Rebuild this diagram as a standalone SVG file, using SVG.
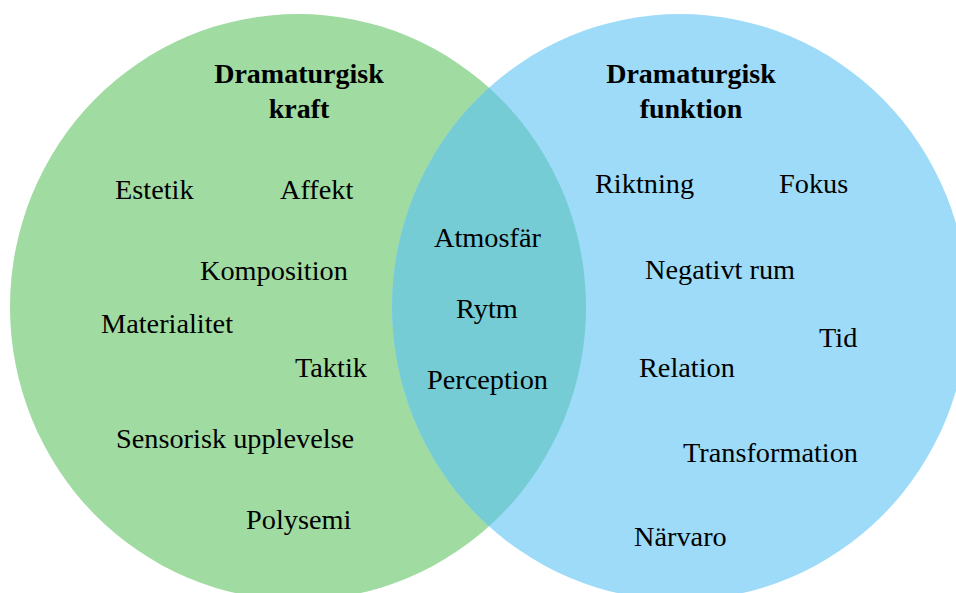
<svg xmlns="http://www.w3.org/2000/svg" width="956" height="593" viewBox="0 0 956 593">
<style>
text{font-family:"Liberation Serif","Times New Roman",serif;font-size:28.3px;fill:#000}
.t{font-weight:bold;text-anchor:middle;font-size:28px}
</style>
<defs>
<clipPath id="clipG"><ellipse cx="298" cy="307" rx="288" ry="293"/></clipPath>
</defs>
<rect width="956" height="593" fill="#fff"/>
<g id="set-kraft">
<ellipse cx="298" cy="307" rx="288" ry="293" fill="#A0DBA1"/>
</g>
<g id="set-funktion">
<ellipse cx="680" cy="307" rx="288" ry="293" fill="#9DDBF8"/>
</g>
<g id="overlap">
<ellipse cx="680" cy="307" rx="288" ry="293" fill="#76CCD4" clip-path="url(#clipG)"/>
</g>
<g id="connectors"></g>
<g id="title-kraft"><text class="t" x="299" y="83">Dramaturgisk</text><text class="t" x="299" y="118">kraft</text></g>
<g id="title-funktion"><text class="t" x="691" y="83">Dramaturgisk</text><text class="t" x="691" y="118">funktion</text></g>
<g id="kraft-items">
<text x="115" y="199">Estetik</text>
<text x="280" y="199">Affekt</text>
<text x="200" y="280">Komposition</text>
<text x="101" y="333">Materialitet</text>
<text x="295" y="377">Taktik</text>
<text x="116" y="448">Sensorisk upplevelse</text>
<text x="246" y="529">Polysemi</text>
</g>
<g id="shared-items">
<text x="434" y="247">Atmosfär</text>
<text x="456" y="318">Rytm</text>
<text x="427" y="389">Perception</text>
</g>
<g id="funktion-items">
<text x="595" y="193">Riktning</text>
<text x="779" y="193">Fokus</text>
<text x="645" y="279">Negativt rum</text>
<text x="819" y="347">Tid</text>
<text x="639" y="377">Relation</text>
<text x="683" y="462">Transformation</text>
<text x="634" y="546">Närvaro</text>
</g>
</svg>
